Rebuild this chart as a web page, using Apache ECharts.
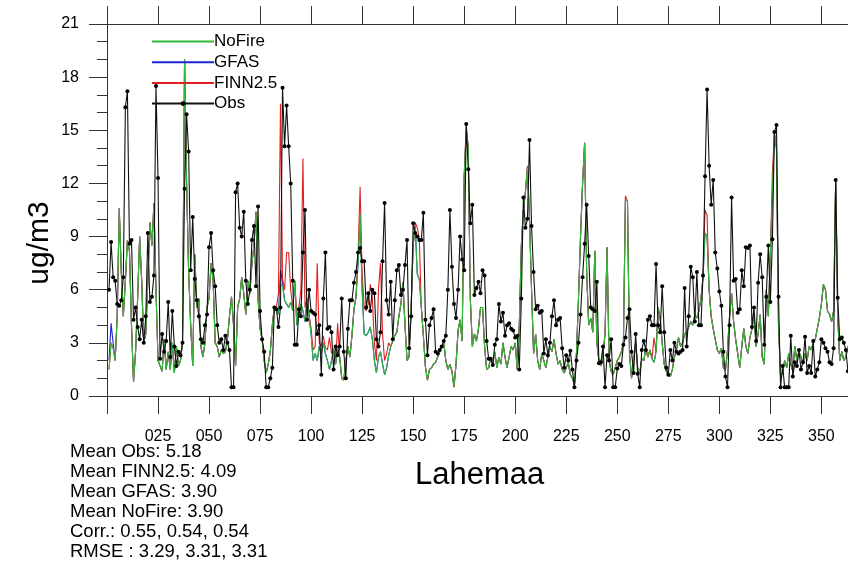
<!DOCTYPE html>
<html><head><meta charset="utf-8">
<script src="https://cdn.jsdelivr.net/npm/echarts@6/dist/echarts.min.js"></script>
<style>html,body{margin:0;padding:0;background:#fff}#c{width:848px;height:564px}</style>
</head><body><div id="c"></div>
<script>
// Daily observed values (day 1..365)
const OBS = [
6.0,8.7,6.7,6.5,5.2,5.1,5.4,6.7,16.3,17.2,
8.6,8.8,4.3,5.0,3.9,3.2,4.3,3.0,4.5,9.2,
5.3,5.6,6.8,17.5,12.3,2.1,3.5,2.5,3.1,5.3,
2.2,4.8,2.8,1.7,2.5,2.3,3.0,11.7,15.9,13.8,
7.1,10.1,6.6,5.4,4.5,3.2,3.0,4.0,4.6,8.4,
9.2,7.1,6.2,4.0,3.0,3.2,2.6,3.4,3.0,2.6,
0.5,0.5,11.5,12.0,9.5,9.0,10.4,6.5,5.2,6.0,
8.8,9.6,6.2,10.7,4.8,3.2,2.5,0.5,0.5,1.0,
1.6,5.0,4.9,3.9,5.0,17.4,14.1,16.4,14.1,12.0,
6.5,2.9,2.9,4.9,4.5,8.1,10.5,4.3,6.0,4.8,
4.7,4.6,3.5,4.0,1.2,5.5,8.1,3.8,3.9,3.6,
1.5,2.8,2.3,2.8,5.5,2.5,1.0,3.8,5.4,5.4,
6.4,7.0,8.1,8.35,7.6,7.6,5.0,5.8,4.8,6.0,
5.8,3.2,2.8,3.6,7.6,10.9,5.4,4.6,6.45,3.2,
5.4,7.1,7.4,5.7,6.0,7.4,8.8,2.7,4.5,9.75,
9.2,9.0,8.8,8.8,10.35,4.3,2.3,4.0,4.4,4.9,
2.5,2.4,2.6,2.8,3.1,3.4,6.0,10.5,7.3,5.2,
4.4,6.0,9.0,7.7,7.1,15.35,12.8,9.75,10.8,5.7,
6.1,6.45,5.8,7.1,6.8,3.1,2.1,2.1,1.75,2.9,
3.2,5.2,4.2,4.7,3.4,4.0,4.1,3.8,3.7,3.3,
3.4,1.5,5.5,11.2,9.5,10.0,14.45,9.6,7.0,4.9,
5.1,4.7,4.8,2.4,3.2,2.3,3.0,4.5,5.4,4.0,
4.3,4.4,2.7,1.6,2.3,2.0,2.55,1.5,0.5,2.0,
3.0,4.6,6.7,8.6,10.8,7.9,5.0,4.9,4.8,6.45,
1.85,1.9,2.8,0.5,2.3,2.0,3.2,0.5,0.5,1.55,
1.8,1.7,2.9,3.3,4.4,4.9,2.5,1.3,3.5,1.25,
0.5,2.6,3.1,2.6,4.3,4.5,4.0,4.0,7.45,4.0,
3.6,6.2,3.6,1.6,1.2,2.6,2.0,3.0,2.5,2.4,
2.5,2.6,6.1,2.8,4.5,7.3,6.7,4.2,7.0,4.0,
4.0,6.8,12.4,17.3,13.0,10.8,12.2,8.1,7.2,5.9,
5.1,2.5,1.1,0.5,4.0,11.2,6.5,6.6,4.7,4.9,
7.1,6.2,8.4,8.35,8.5,3.9,5.0,3.1,6.4,8.0,
6.7,2.9,5.6,8.5,5.3,8.85,14.9,15.3,5.6,0.5,
1.7,0.5,0.5,0.5,3.4,1.1,1.9,1.7,2.6,1.5,
1.9,3.35,1.3,1.7,1.3,3.1,1.1,1.5,1.9,3.2,
3.0,2.7,2.5,1.9,1.8,2.7,12.2,5.55,3.2,3.3,
3.0,2.6,1.4,2.0,2.2
];
const NOFIRE = [
1.5,3.0,2.7,2.0,4.5,10.6,7.0,4.5,6.5,8.8,
8.2,4.0,0.8,2.5,5.5,9.0,6.5,3.0,3.5,6.5,
9.8,8.5,10.9,6.0,2.0,1.7,1.4,3.2,1.5,2.5,
1.5,3.0,1.3,2.8,1.7,2.0,3.0,19.0,12.0,7.0,
4.0,1.7,8.0,5.0,5.5,2.8,2.2,3.0,5.0,5.5,
7.5,6.5,3.0,2.8,2.2,2.6,2.4,2.5,3.2,4.5,
5.6,4.0,1.7,5.0,5.5,6.7,5.8,4.6,6.5,5.8,
7.5,8.5,10.4,5.5,3.8,3.2,2.0,1.3,1.8,2.5,
4.0,5.0,5.0,4.6,6.3,6.2,5.4,5.2,5.0,5.3,
4.8,6.5,4.0,4.6,5.2,4.8,4.2,5.5,4.5,3.5,
2.0,2.4,2.0,2.8,2.4,3.0,2.4,2.0,1.5,2.0,
2.7,1.8,2.8,2.2,1.0,0.9,2.0,2.8,2.2,3.4,
4.9,5.6,7.5,10.3,6.0,3.5,3.4,3.6,3.9,3.2,
2.0,1.3,2.2,2.5,1.8,1.2,1.6,2.3,2.8,3.1,
3.4,3.6,4.5,5.2,6.4,4.0,2.0,2.2,5.0,8.5,
9.6,6.9,6.6,5.0,3.4,1.65,0.9,1.5,1.6,1.8,
1.9,2.2,2.5,2.8,3.0,2.0,1.5,1.8,1.4,0.5,
1.8,3.7,4.3,3.1,12.4,15.0,14.0,5.5,2.8,3.5,
3.1,3.8,5.0,5.0,2.8,1.5,1.6,2.2,1.8,2.5,
1.6,2.2,1.8,3.0,2.2,1.6,2.2,2.8,2.6,3.0,
1.5,4.0,8.5,10.5,11.5,12.9,10.0,6.0,2.4,3.5,
2.0,1.5,2.4,2.0,1.6,2.2,2.8,2.5,3.2,2.4,
1.8,2.0,1.5,1.3,1.6,1.9,1.2,1.0,0.6,2.4,
5.5,9.0,12.0,14.3,7.0,4.0,4.4,3.6,8.2,3.0,
2.0,1.7,2.3,3.5,8.4,2.0,1.4,1.2,1.6,2.0,
2.2,2.5,3.0,11.1,11.0,2.4,1.0,2.0,3.0,1.6,
1.3,2.1,2.0,2.7,2.2,2.6,2.1,1.9,2.5,5.0,
4.4,3.0,1.8,1.4,1.2,1.1,1.5,2.2,2.6,3.3,
2.8,3.0,3.5,3.6,3.9,4.2,4.0,4.6,4.4,4.8,
5.5,6.7,9.2,9.0,6.0,4.5,3.8,3.2,2.6,2.4,
2.7,1.6,1.45,2.6,4.5,5.8,4.2,3.2,2.4,1.6,
2.8,3.8,2.8,2.4,3.3,3.8,4.6,2.8,3.5,4.6,
2.2,1.8,6.0,4.5,8.0,11.5,14.8,14.0,4.0,1.1,
1.3,2.0,1.6,2.4,1.8,1.4,2.8,2.0,2.5,2.2,
1.8,2.4,2.0,2.8,2.6,3.0,3.2,3.8,4.4,5.2,
6.3,6.0,4.8,4.6,4.2,4.8,12.2,4.5,2.0,2.5,
2.0,2.2,2.8,2.4,2.0
];
const GFAS = [
2.0,4.1,3.0,2.0,4.5,10.6,7.0,4.5,6.5,8.8,
8.2,4.0,0.8,2.5,5.5,9.0,6.5,3.0,3.5,6.5,
9.8,8.5,10.9,6.0,2.0,1.7,1.4,3.2,1.5,2.5,
1.5,3.0,1.3,2.8,1.7,2.0,3.0,19.0,12.0,7.0,
4.0,1.7,8.0,5.0,5.5,2.8,2.2,3.0,5.0,5.5,
7.5,6.5,3.0,2.8,2.2,2.6,2.4,2.5,3.2,4.5,
5.6,4.0,1.7,5.0,5.5,6.7,5.8,4.6,6.5,5.8,
7.5,8.5,10.4,5.5,3.8,3.2,2.0,1.3,1.8,2.5,
4.0,5.0,5.0,4.6,7.1,6.4,5.4,5.2,5.0,5.3,
4.8,6.5,4.0,4.6,5.2,4.8,4.2,5.5,4.5,3.5,
2.0,2.4,2.0,2.8,2.4,3.0,2.4,2.0,1.5,2.0,
2.7,1.8,2.8,2.2,1.0,0.9,2.0,2.8,2.2,3.4,
4.9,5.6,7.5,10.3,6.0,3.5,3.4,3.6,3.9,3.2,
2.0,1.3,2.2,2.5,1.8,1.2,1.6,2.3,2.8,3.1,
3.4,3.6,4.5,5.2,6.4,4.0,2.0,2.2,5.0,8.5,
9.6,6.9,6.6,5.0,3.4,1.65,0.9,1.5,1.6,1.8,
1.9,2.2,2.5,2.8,3.0,2.0,1.5,1.8,1.4,0.5,
1.8,3.7,4.3,3.1,12.4,15.0,14.0,5.5,2.8,3.5,
3.1,3.8,5.0,5.0,2.8,1.5,1.6,2.2,1.8,2.5,
1.6,2.2,1.8,3.0,2.2,1.6,2.2,2.8,2.6,3.0,
1.5,4.0,8.5,10.5,11.5,12.9,10.0,6.0,2.4,3.5,
2.0,1.5,2.4,2.0,1.6,2.2,2.8,2.5,3.2,2.4,
1.8,2.0,1.5,1.3,1.6,1.9,1.2,1.0,0.6,2.4,
5.5,9.0,12.0,14.3,7.0,4.0,4.4,3.6,8.2,3.0,
2.0,1.7,2.3,3.5,8.4,2.0,1.4,1.2,1.6,2.0,
2.2,2.5,3.0,11.1,11.0,2.4,1.0,2.0,3.0,1.6,
1.3,2.1,2.0,2.7,2.2,2.6,2.1,1.9,2.5,5.0,
4.4,3.0,1.8,1.4,1.2,1.1,1.5,2.2,2.6,3.3,
2.8,3.0,3.5,3.6,3.9,4.2,4.0,4.6,4.4,4.8,
5.5,6.7,9.2,9.0,6.0,4.5,3.8,3.2,2.6,2.4,
2.7,1.6,1.45,2.6,4.5,5.8,4.2,3.2,2.4,1.6,
2.8,3.8,2.8,2.4,3.3,3.8,4.6,2.8,3.5,4.6,
2.2,1.8,6.0,4.5,8.0,11.5,14.8,14.0,4.0,1.1,
1.3,2.0,1.6,2.4,1.8,1.4,2.8,2.0,2.5,2.2,
1.8,2.4,2.0,2.8,2.6,3.0,3.2,3.8,4.4,5.2,
6.3,6.0,4.8,4.6,4.2,4.8,12.2,4.5,2.0,2.5,
2.0,2.2,2.8,2.4,2.0
];
const FINN = [
1.5,3.0,2.7,2.0,4.5,10.6,7.0,4.5,6.5,8.8,
8.2,4.0,0.8,2.5,5.5,9.0,6.5,3.0,3.5,6.5,
9.8,8.5,10.9,6.0,2.0,1.7,1.4,3.2,1.5,2.5,
1.5,3.0,1.3,2.8,1.7,2.0,3.0,19.0,12.0,7.0,
4.0,1.7,8.0,5.0,5.5,2.8,2.2,3.0,5.0,5.5,
7.5,6.5,3.0,2.8,2.2,2.6,2.4,2.5,3.2,4.5,
5.6,4.0,1.7,5.0,5.5,6.7,5.8,4.6,6.5,5.8,
7.5,8.5,10.4,5.5,3.8,3.2,2.0,1.3,1.8,2.5,
4.0,5.0,5.0,5.8,16.5,6.6,6.0,8.1,8.1,6.0,
5.0,6.5,4.4,5.0,6.0,13.4,5.0,5.5,4.6,3.8,
2.6,2.8,7.5,3.0,2.8,3.4,2.7,2.6,3.3,2.4,
2.7,1.8,4.1,2.2,1.0,0.9,2.0,2.8,2.2,3.4,
4.9,5.6,8.0,11.8,7.0,5.0,4.8,5.2,6.3,5.5,
3.0,2.0,6.0,7.5,3.5,2.0,2.4,3.0,2.8,3.1,
3.4,3.6,4.5,5.2,6.4,4.0,2.0,2.2,5.0,8.5,
9.8,9.5,8.9,5.0,3.4,1.65,0.9,1.5,1.6,1.8,
1.9,2.2,2.5,2.8,3.0,2.0,1.5,1.8,1.4,0.5,
1.8,3.7,4.3,3.1,12.4,15.3,14.0,5.5,2.8,3.5,
3.1,3.8,5.0,5.0,2.8,1.5,1.6,2.2,1.8,2.5,
1.6,2.2,1.8,3.0,2.2,1.6,2.2,2.8,2.6,3.0,
1.5,4.0,8.5,10.5,11.5,13.0,10.0,6.0,2.4,3.5,
2.0,1.5,2.4,2.0,1.6,2.2,2.8,2.5,3.2,2.4,
1.8,2.0,1.5,1.3,1.6,1.9,1.2,1.0,0.6,2.4,
5.5,9.0,12.0,14.3,7.0,4.0,4.4,3.6,8.2,3.0,
2.0,1.7,2.3,3.5,8.4,2.0,1.4,1.2,1.6,2.0,
2.2,2.5,3.0,11.3,11.0,2.4,1.0,2.0,3.0,1.6,
1.3,2.1,2.0,2.7,2.2,2.6,2.1,3.3,2.5,5.0,
4.4,3.0,1.8,1.4,1.2,1.1,1.5,2.2,2.6,3.3,
2.8,3.0,3.5,3.6,3.9,4.2,4.0,4.6,4.4,4.8,
5.5,6.7,10.5,10.2,6.0,4.5,3.8,3.2,2.6,2.4,
2.7,1.6,1.45,2.6,4.5,5.8,4.2,3.2,2.4,1.6,
2.8,3.8,2.8,2.4,3.3,3.8,4.6,2.8,3.5,4.6,
2.2,1.8,6.0,4.5,8.0,12.6,14.8,14.0,4.0,1.1,
1.3,2.0,1.6,2.4,1.8,1.4,2.8,2.0,2.5,2.2,
1.8,2.4,2.0,2.8,2.6,3.0,3.2,3.8,4.4,5.2,
6.3,6.0,4.8,4.6,4.2,4.8,12.2,4.5,2.0,2.5,
2.0,2.2,2.8,2.4,2.0
];
const SERIES_NAMES = ['NoFire', 'GFAS', 'FINN2.5', 'Obs'];
const STATS = [
  'Mean Obs: 5.18',
  'Mean FINN2.5: 4.09',
  'Mean GFAS: 3.90',
  'Mean NoFire: 3.90',
  'Corr.: 0.55, 0.54, 0.54',
  'RMSE : 3.29, 3.31, 3.31'
];
const STATION = 'Lahemaa';
const Y_NAME = 'ug/m3';

const DAYS = OBS.map((_, i) => i + 1);
const pairs = arr => arr.map((v, i) => [DAYS[i], v]);
const FONT = '"Liberation Sans", Arial, Helvetica, sans-serif';
const AX = '#333';

const chart = echarts.init(document.getElementById('c'), null, {renderer: 'canvas'});
const xCommon = {
  type: 'value', min: 0, max: 365, interval: 25,
  axisLine: {show: true, onZero: false, lineStyle: {color: AX, width: 1}},
  axisTick: {show: true, length: 18, lineStyle: {color: AX, width: 1}},
  splitLine: {show: false}
};
const noSym = {opacity: 0};
chart.setOption({
  animation: false,
  backgroundColor: '#fff',
  grid: {left: 107, top: 24, width: 745, height: 372, containLabel: false, outerBoundsMode: 'none'},
  xAxis: [
    Object.assign({}, xCommon, {
      position: 'bottom',
      axisLabel: {margin: 33, fontSize: 16, color: '#000', fontFamily: FONT,
        formatter: v => (v === 0 || v === 365 ? '' : String(v).padStart(3, '0'))}
    }),
    Object.assign({}, xCommon, {position: 'top', axisLabel: {show: false}})
  ],
  yAxis: [{
    type: 'value', min: 0, max: 21, interval: 3, position: 'left',
    axisLine: {show: true, lineStyle: {color: AX, width: 1}},
    axisTick: {show: true, length: 18, lineStyle: {color: AX, width: 1}},
    minorTick: {show: true, splitNumber: 3, length: 10, lineStyle: {color: AX, width: 1}},
    splitLine: {show: false},
    axisLabel: {margin: 28, fontSize: 16, color: '#000', fontFamily: FONT}
  }],
  legend: {
    data: [
      {name: 'NoFire', itemStyle: noSym},
      {name: 'GFAS', itemStyle: noSym},
      {name: 'FINN2.5', itemStyle: noSym},
      {name: 'Obs'}
    ],
    orient: 'vertical', left: 151, top: 33,
    itemWidth: 62, itemHeight: 6, itemGap: 3.7, padding: 0,
    textStyle: {fontSize: 17, color: '#000', fontFamily: FONT, padding: [0, 0, 0, -5]}
  },
  graphic: [
    {type: 'text', x: 40, y: 243, rotation: Math.PI / 2,
      style: {text: Y_NAME, font: '30px ' + FONT, fill: '#000', align: 'center', verticalAlign: 'middle'}},
    {type: 'text', left: 415, top: 460, style: {text: STATION, fill: '#000', font: '31px ' + FONT}},
    {type: 'text', left: 70, top: 442, style: {text: STATS.join('\n'), fill: '#000', font: '18.5px ' + FONT, lineHeight: 20}}
  ],
  series: [
    {name: 'GFAS', type: 'line', data: pairs(GFAS), symbol: 'none', lineStyle: {color: '#2020d0', width: 1.1}, itemStyle: {color: '#2020d0'}},
    {name: 'FINN2.5', type: 'line', data: pairs(FINN), symbol: 'none', lineStyle: {color: '#e02020', width: 1.1}, itemStyle: {color: '#e02020'}},
    {name: 'NoFire', type: 'line', data: pairs(NOFIRE), symbol: 'none', lineStyle: {color: '#2fb83a', width: 1.1}, itemStyle: {color: '#2fb83a'}},
    {name: 'Obs', type: 'line', data: pairs(OBS), symbol: 'circle', symbolSize: 4, showAllSymbol: true,
      lineStyle: {color: '#111', width: 1.1}, itemStyle: {color: '#000'}}
  ]
});
</script>
</body></html>
